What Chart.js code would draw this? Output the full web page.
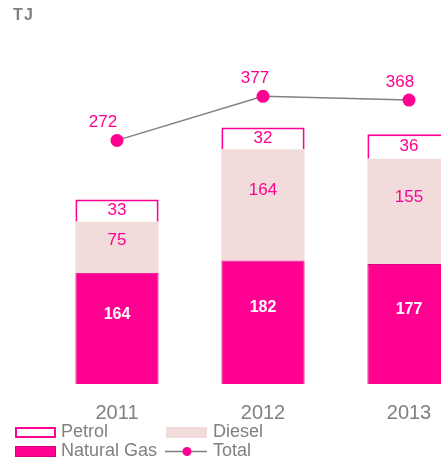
<!DOCTYPE html>
<html>
<head>
<meta charset="utf-8">
<script src="https://cdn.jsdelivr.net/npm/chart.js@4.4.1/dist/chart.umd.min.js"></script>
<style>
  html, body { margin: 0; padding: 0; overflow: hidden; background: #fff; }
  #wrap { width: 490px; height: 459px; }
</style>
</head>
<body>
<div id="wrap"><canvas id="c" width="490" height="459"></canvas></div>
<script>
// Energy consumption by fuel, TJ
const categories = ['2011', '2012', '2013'];
const naturalGas = [164, 182, 177];
const diesel = [75, 164, 155];
const petrol = [33, 32, 36];
const total = [272, 377, 368];

const PINK = '#FF0090';
const PINK_DARK = '#D9007A';
const ROSE = '#F2DCDB';
const GREY = '#808080';
const FONT = '"Liberation Sans", Arial, sans-serif';

// Value labels inside the bars and above the total points
const valueLabels = {
  id: 'valueLabels',
  afterDatasetsDraw(chart) {
    const ctx = chart.ctx;
    ctx.save();
    ctx.textAlign = 'center';
    ctx.textBaseline = 'middle';
    chart.data.datasets.forEach((ds, i) => {
      const meta = chart.getDatasetMeta(i);
      const cfg = ds.valueLabel;
      if (!cfg) return;
      ctx.font = cfg.font;
      ctx.fillStyle = cfg.color;
      meta.data.forEach((el, j) => {
        const v = ds.data[j];
        let x, y;
        if (meta.type === 'bar') {
          x = el.x;
          y = el.y + (el.base - el.y) * cfg.pos;
        } else {
          x = el.x + cfg.dx[j];
          y = el.y + cfg.dy;
        }
        ctx.fillText(String(v), x, y);
      });
    });
    ctx.restore();
  }
};

// Unit caption and two-column legend
const decorations = {
  id: 'decorations',
  afterDraw(chart) {
    const ctx = chart.ctx;
    const ds = chart.data.datasets;
    const byLabel = name => ds.find(d => d.label === name);
    ctx.save();
    ctx.fillStyle = GREY;
    ctx.font = 'bold 16px ' + FONT;
    ctx.textBaseline = 'alphabetic';
    ctx.textAlign = 'left';
    ctx.fillText('T\u200AJ', 13, 20);

    ctx.font = '18px ' + FONT;
    ctx.textBaseline = 'middle';
    const rows = [
      { name: 'Petrol', x: 15, y: 432.5 },
      { name: 'Diesel', x: 166, y: 432.5 },
      { name: 'Natural Gas', x: 15, y: 451.5 },
      { name: 'Total', x: 165, y: 451.5 }
    ];
    rows.forEach(r => {
      const d = byLabel(r.name);
      if (d.type === 'line') {
        ctx.strokeStyle = d.borderColor;
        ctx.lineWidth = 1.5;
        ctx.beginPath();
        ctx.moveTo(r.x, r.y);
        ctx.lineTo(r.x + 42, r.y);
        ctx.stroke();
        ctx.fillStyle = d.pointBackgroundColor;
        ctx.beginPath();
        ctx.arc(r.x + 22, r.y, 4.5, 0, Math.PI * 2);
        ctx.fill();
      } else {
        const bw = d.borderWidth || 0;
        ctx.fillStyle = d.backgroundColor;
        ctx.fillRect(r.x, r.y - 5.5, 41, 11);
        if (bw) {
          ctx.strokeStyle = d.borderColor;
          ctx.lineWidth = bw;
          ctx.strokeRect(r.x + bw / 2, r.y - 5.5 + bw / 2, 41 - bw, 11 - bw);
        }
      }
      ctx.fillStyle = GREY;
      ctx.fillText(r.name, r.x === 15 ? 61 : 213, r.y);
    });
    ctx.restore();
  }
};

new Chart(document.getElementById('c'), {
  data: {
    labels: categories,
    datasets: [
      {
        type: 'line',
        label: 'Total',
        data: total,
        yAxisID: 'y2',
        borderColor: GREY,
        borderWidth: 1.5,
        pointRadius: 6.5,
        pointBackgroundColor: PINK,
        pointBorderColor: PINK,
        pointBorderWidth: 0,
        tension: 0,
        order: 0,
        valueLabel: { font: '17px ' + FONT, color: PINK, dx: [-14, -8, -9], dy: -18 }
      },
      {
        type: 'bar',
        label: 'Natural Gas',
        data: naturalGas,
        stack: 'fuel',
        backgroundColor: PINK,
        borderColor: PINK_DARK,
        borderWidth: 1,
        order: 1,
        valueLabel: { font: 'bold 16px ' + FONT, color: '#FFFFFF', pos: 0.38 }
      },
      {
        type: 'bar',
        label: 'Diesel',
        data: diesel,
        stack: 'fuel',
        backgroundColor: ROSE,
        borderWidth: 0,
        order: 1,
        valueLabel: { font: '17px ' + FONT, color: PINK, pos: 0.37 }
      },
      {
        type: 'bar',
        label: 'Petrol',
        data: petrol,
        stack: 'fuel',
        backgroundColor: '#FFFFFF',
        borderColor: PINK,
        borderWidth: 2,
        order: 1,
        valueLabel: { font: '17px ' + FONT, color: PINK, pos: 0.5 }
      }
    ]
  },
  options: {
    responsive: false,
    animation: false,
    layout: { padding: { left: 44, right: 8, top: 40, bottom: 17 } },
    datasets: { bar: { categoryPercentage: 1, barPercentage: 0.57 } },
    plugins: { legend: { display: false }, tooltip: { enabled: false } },
    scales: {
      x: {
        grid: { display: false, drawTicks: false },
        border: { display: false },
        ticks: { color: GREY, font: { family: FONT, size: 20 }, padding: 17 }
      },
      y: { display: false, stacked: true, min: 0, max: 507 },
      y2: { display: false, min: -308, max: 511 }
    }
  },
  plugins: [valueLabels, decorations]
});
</script>
</body>
</html>
